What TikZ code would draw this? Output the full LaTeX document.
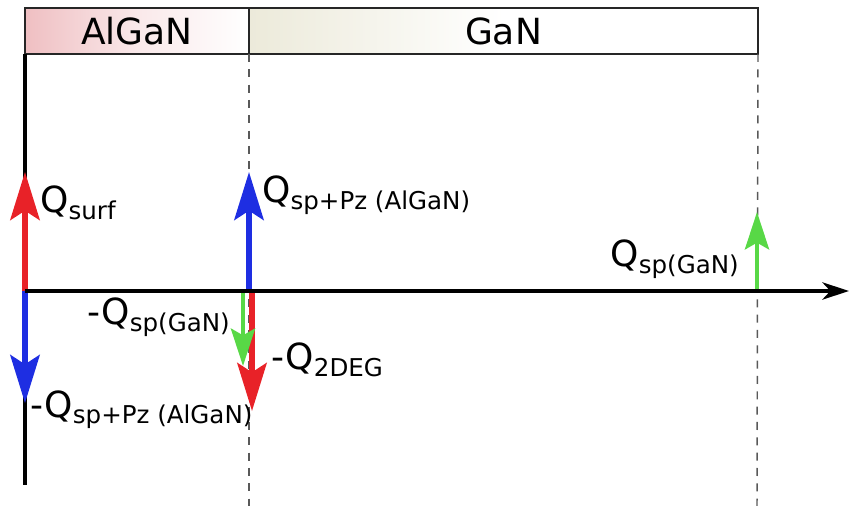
\documentclass[tikz,border=0pt]{standalone}
\usepackage{fontspec}
\setmainfont{DejaVu Sans}
\usetikzlibrary{arrows.meta, positioning}

\definecolor{qred}{HTML}{E82228}
\definecolor{qblue}{HTML}{1E2EE2}
\definecolor{qgreen}{HTML}{58D846}
\definecolor{alganpink}{HTML}{EFBFC2}
\definecolor{ganbeige}{HTML}{ECEADA}

\newcommand{\mainsz}{\fontsize{27}{30}\selectfont}
\newcommand{\subsz}{\fontsize{18.4}{20}\selectfont}
\newcommand{\qq}[2]{#1\raisebox{-5pt}{\subsz #2}}

\begin{document}
\begin{tikzpicture}[
    x=0.75pt, y=-0.75pt,
    layer/.style={rectangle, draw=black!85, line width=1.5pt, minimum height=34.5pt, inner sep=0pt, outer sep=0pt, font=\mainsz},
    wall/.style={draw, line width=2.4pt},
    iface/.style={draw=black!65, line width=1.1pt, dash pattern=on 6pt off 5.5pt},
    axis/.style={draw, line width=2.6pt, -{Stealth[length=20pt, width=13pt, inset=6pt]}},
    bigq/.style={draw, line width=4pt, -{Stealth[length=36pt, width=22pt, inset=7pt]}},
    smallq/.style={draw, line width=3.4pt, -{Stealth[length=28pt, width=18pt, inset=5pt]}},
    qlab/.style={inner sep=0pt, font=\mainsz}
]
\useasboundingbox (0,0) rectangle (851,506);

% layers
\node [layer, left color=alganpink, right color=white, middle color=alganpink!35!white, minimum width=168pt] (algan) at (137,31) {AlGaN};
\node [layer, left color=ganbeige, right color=white, middle color=white, minimum width=381.75pt, right=0pt of algan] (gan) {GaN};

\coordinate (o) at (25,291);
\coordinate (ax) at (849,291);
\coordinate (lbot) at (25,485);
\coordinate (d1) at (249,506);
\coordinate (d2) at (757,506);

\path [wall] (algan.south west) -- (lbot);
\path [iface] (algan.south east) -- (d1);
\path [iface] (gan.south east) -- (d2);

% charges
\coordinate (surfup) at (25,172);
\coordinate (pzdown) at (25,403);
\coordinate (pzroot) at (249,291);
\coordinate (pzup) at (249,172);
\coordinate (spdroot) at (243,291);
\coordinate (spdown) at (243,366);
\coordinate (degroot) at (252,291);
\coordinate (degdown) at (252,411);
\coordinate (sproot) at (757,291);
\coordinate (spup) at (757,212);

\path [bigq, qred] (o) -- (surfup);
\path [bigq, qblue] (o) -- (pzdown);
\path [bigq, qblue] (pzroot) -- (pzup);
\path [bigq, qred] (degroot) -- (degdown);
\path [smallq, qgreen] (spdroot) -- (spdown);
\path [smallq, qgreen] (sproot) -- (spup);

\path [axis] (o) -- (ax);

% labels
\node [qlab, anchor=base west] (qsurf) at (40,213) {\qq{Q}{surf}};
\node [qlab, anchor=base west] (qpz) at (262,203) {\qq{Q}{sp+Pz (AlGaN)}};
\node [qlab, anchor=base east] (qspneg) at (230,325) {\qq{-Q}{sp(GaN)}};
\node [qlab, anchor=base west] (qdeg) at (271,370) {\qq{-Q}{2DEG}};
\node [qlab, anchor=base west] (qpzneg) at (30,417) {\qq{-Q}{sp+Pz (AlGaN)}};
\node [qlab, anchor=base east] (qsp) at (739,267) {\qq{Q}{sp(GaN)}};

\end{tikzpicture}
\end{document}
